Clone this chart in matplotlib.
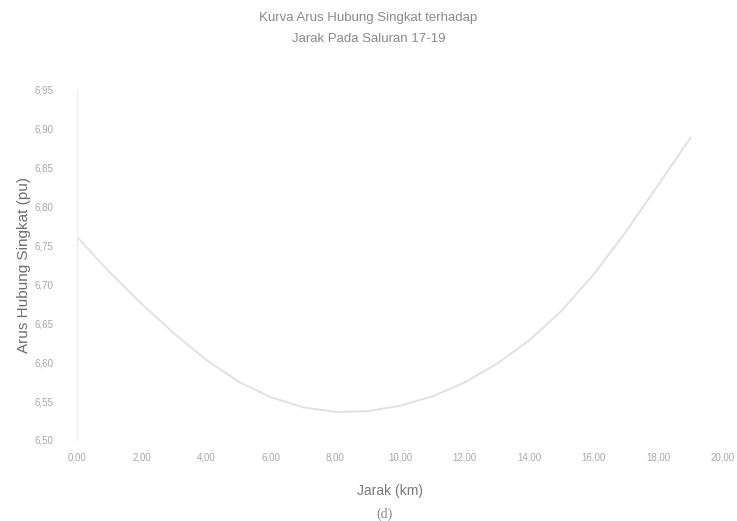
import matplotlib
matplotlib.use("Agg")
import matplotlib.pyplot as plt
from matplotlib.ticker import FuncFormatter, MultipleLocator

# Short-circuit current (pu) versus fault distance along line 17-19
jarak_km = [0, 1, 2, 3, 4, 5, 6, 7, 8, 9, 10, 11, 12, 13, 14, 15, 16, 17, 18, 19]
arus_pu = [6.761, 6.716, 6.675, 6.637, 6.603, 6.575, 6.555, 6.542, 6.536, 6.537,
           6.544, 6.556, 6.574, 6.598, 6.628, 6.666, 6.713, 6.768, 6.828, 6.889]

title_lines = ["Kurva Arus Hubung Singkat terhadap", "Jarak Pada Saluran 17-19"]
x_label = "Jarak (km)"
y_label = "Arus Hubung Singkat (pu)"
caption = "(d)"

plt.rcParams["font.family"] = ["Liberation Sans", "DejaVu Sans"]

fig = plt.figure(figsize=(7.37, 5.21), dpi=100)
ax = fig.add_axes([0.1045, 0.1555, 0.8765, 0.672])

ax.plot(jarak_km, arus_pu, color="#e0e1e7", linewidth=1.4,
        solid_capstyle="round", solid_joinstyle="round")

ax.set_xlim(0, 20)
ax.set_ylim(6.50, 6.95)
ax.xaxis.set_major_locator(MultipleLocator(2))
ax.yaxis.set_major_locator(MultipleLocator(0.05))
comma = FuncFormatter(lambda v, _: f"{v:.2f}".replace(".", ","))
ax.xaxis.set_major_formatter(comma)
ax.yaxis.set_major_formatter(comma)

ax.tick_params(axis="both", length=0, labelsize=7, labelcolor="#a8a8a8")
ax.tick_params(axis="y", pad=17)
ax.tick_params(axis="x", pad=9)

for side in ["top", "right", "bottom"]:
    ax.spines[side].set_visible(False)
ax.spines["left"].set_color("#ededed")
ax.spines["left"].set_linewidth(1.0)

ax.set_ylabel(y_label, fontsize=11, color="#6e6e6e")
ax.yaxis.set_label_coords(-0.072, 0.5)

fig.text(0.529, 0.058, x_label, ha="center", va="center", fontsize=10, color="#7a7a7a")
fig.text(0.5, 0.965, title_lines[0], ha="center", va="center", fontsize=9.5, color="#8a8a8a")
fig.text(0.5, 0.925, title_lines[1], ha="center", va="center", fontsize=9.5, color="#8a8a8a")
fig.text(0.522, 0.012, caption, ha="center", va="center", fontsize=10, color="#8a8a8a",
         family=["Liberation Serif", "DejaVu Serif"])

fig.savefig("out.png", dpi=100, facecolor="white")
